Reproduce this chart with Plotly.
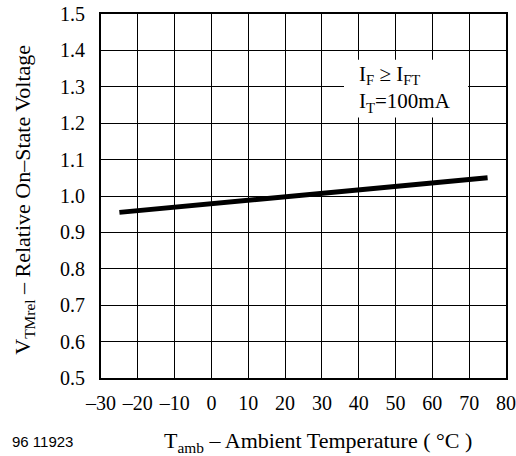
import plotly.graph_objects as go

temps = [-25, 0, 25, 50, 75]
vrel = [0.955, 0.978, 1.001, 1.025, 1.050]

x_ticks = [-30, -20, -10, 0, 10, 20, 30, 40, 50, 60, 70, 80]
x_ticktext = ["–30", "–20", "–10", "0", "10", "20", "30", "40", "50", "60", "70", "80"]
y_ticks = [0.5, 0.6, 0.7, 0.8, 0.9, 1.0, 1.1, 1.2, 1.3, 1.4, 1.5]
y_ticktext = ["0.5", "0.6", "0.7", "0.8", "0.9", "1.0", "1.1", "1.2", "1.3", "1.4", "1.5"]

serif = "Liberation Serif"
fs = 20
ft = 22

fig = go.Figure()
fig.add_trace(go.Scatter(x=temps, y=vrel, mode="lines",
                         line=dict(color="black", width=5), hoverinfo="skip"))

fig.update_layout(
    template="none",
    width=516, height=456,
    margin=dict(l=101, r=10, t=14, b=78),
    paper_bgcolor="white", plot_bgcolor="white",
    showlegend=False,
    font=dict(family=serif, size=fs, color="black"),
    xaxis=dict(range=[-30, 80], tickvals=x_ticks, ticktext=x_ticktext, automargin=False,
               showgrid=True, gridcolor="black", gridwidth=1,
               showline=True, linecolor="black", linewidth=2, mirror=True,
               ticks="", zeroline=False, ticklabelstandoff=6,
               tickfont=dict(family=serif, size=fs)),
    yaxis=dict(range=[0.5, 1.5], tickvals=y_ticks, ticktext=y_ticktext, automargin=False,
               showgrid=True, gridcolor="black", gridwidth=1,
               showline=True, linecolor="black", linewidth=2, mirror=True,
               ticks="", zeroline=False, ticklabelstandoff=10,
               tickfont=dict(family=serif, size=fs)),
)

fig.add_shape(type="rect", xref="x", yref="y", x0=36, x1=69.7, y0=1.216, y1=1.374,
              fillcolor="white", line=dict(width=0), layer="above")

fig.add_annotation(xref="x", yref="y", x=39.4, y=1.293, xanchor="left", yanchor="middle",
                   align="left",
                   text="I<sub>F</sub> ≥ I<sub>FT</sub><br>I<sub>T</sub>=100mA", showarrow=False,
                   font=dict(family=serif, size=21))

fig.add_annotation(xref="paper", yref="paper", x=0.536, y=-0.175, xanchor="center", yanchor="middle",
                   text="T<sub>amb</sub> – Ambient Temperature ( °C )", showarrow=False,
                   font=dict(family=serif, size=ft))
fig.add_annotation(xref="paper", yref="paper", x=-0.19, y=0.49, xanchor="center", yanchor="middle",
                   text="V<sub>TMrel</sub> – Relative On–State Voltage", showarrow=False, textangle=-90,
                   font=dict(family=serif, size=ft))
fig.add_annotation(xref="paper", yref="paper", x=-0.225, y=-0.175, xanchor="left", yanchor="middle",
                   text="96 11923", showarrow=False,
                   font=dict(family="Liberation Sans", size=15))

fig.write_html("out.html", config={"displayModeBar": False},
               post_script="document.body.style.margin='0';document.body.style.overflow='hidden';")
